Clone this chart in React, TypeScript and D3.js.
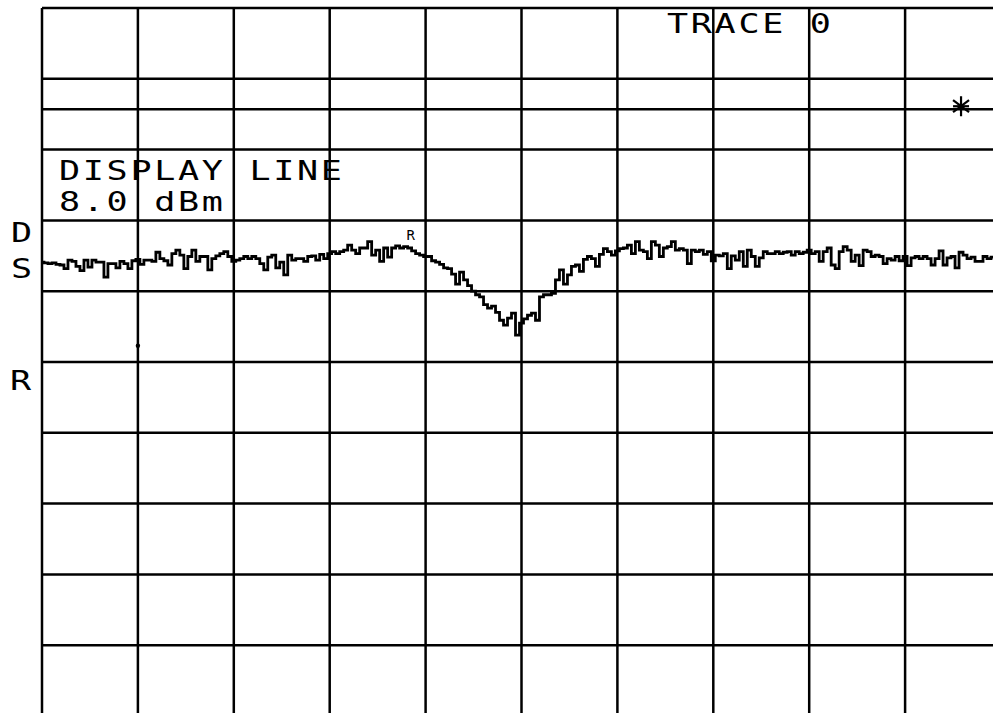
import React from 'react';
import * as d3 from 'd3';

// ---------- data ----------
const traceDbm: number[] = [
  -13.6, -13.7, -13.8, -13.7, -13.9, -14.0, -14.5, -13.3, -13.5, -14.2,
  -14.8, -13.3, -14.3, -13.3, -13.6, -13.6, -15.7, -13.8, -13.8, -14.4,
  -13.5, -13.8, -14.5, -13.4, -13.2, -13.9, -13.3, -13.3, -13.5, -12.2,
  -13.1, -13.4, -14.0, -12.4, -11.9, -12.6, -14.5, -12.8, -11.9, -13.5,
  -12.8, -12.8, -14.7, -13.1, -12.7, -12.4, -12.1, -12.8, -13.5, -13.3,
  -13.1, -12.8, -13.1, -12.8, -13.1, -13.8, -14.7, -12.9, -12.6, -14.4,
  -13.6, -15.4, -12.6, -13.3, -13.1, -13.1, -13.5, -12.8, -12.7, -13.3,
  -12.5, -13.1, -12.4, -12.1, -12.4, -12.1, -11.9, -11.2, -11.9, -12.4,
  -11.6, -11.6, -10.7, -12.6, -11.9, -13.5, -11.6, -12.9, -11.6, -11.3,
  -11.6, -11.4, -11.6, -12.0, -12.4, -12.6, -12.8, -12.8, -13.4, -13.6,
  -13.9, -14.4, -14.5, -15.3, -16.7, -15.0, -16.1, -16.9, -17.7, -18.2,
  -18.5, -19.6, -20.1, -19.8, -20.7, -21.8, -22.5, -21.5, -20.8, -23.9,
  -22.2, -21.6, -21.1, -20.8, -21.8, -18.5, -18.2, -18.2, -18.0, -16.1,
  -14.7, -16.7, -15.4, -14.2, -14.0, -14.9, -13.2, -12.8, -13.1, -14.2,
  -12.5, -11.7, -12.1, -12.6, -12.0, -11.7, -11.6, -11.2, -12.4, -10.7,
  -11.9, -12.1, -13.1, -10.7, -11.2, -12.8, -11.6, -11.4, -10.7, -11.9,
  -11.7, -11.9, -13.8, -11.9, -12.1, -11.9, -12.5, -12.1, -13.4, -12.6,
  -12.7, -12.4, -14.5, -12.7, -13.3, -12.1, -14.2, -11.9, -12.8, -14.2,
  -13.0, -12.1, -12.4, -12.4, -12.1, -12.4, -12.2, -12.1, -12.6, -12.1,
  -12.4, -12.2, -11.9, -12.4, -12.1, -13.5, -12.1, -11.6, -14.0, -14.5,
  -12.1, -11.4, -11.9, -13.5, -12.6, -14.1, -11.9, -12.1, -12.8, -12.6,
  -12.8, -13.8, -13.1, -13.3, -12.8, -13.4, -12.8, -14.1, -13.0, -12.8,
  -13.1, -12.8, -13.1, -14.0, -13.1, -12.0, -14.0, -13.0, -12.8, -14.4,
  -12.2, -12.6, -13.1, -12.9, -13.5, -13.5, -12.8, -13.1, -12.9, -13.1,
  -12.9,
];

const refLevelDbm = 22.3;
const dbPerDiv = 10;
const numDivX = 10;
const numDivY = 10;
const displayLineDbm = 8.0;

const headerText = 'TRACE 0';
const annotationLines = ['DISPLAY LINE', '8.0 dBm'];
const sideFlags = ['D', 'S', 'R'];
const peakMarkerIndex = 92;
const peakMarkerLabel = 'R';
const asteriskIndex = 230;
const dotPoint = { index: 24, dbm: -25.4 };

// ---------- layout ----------
const W = 993;
const H = 713;
const X0 = 42;
const Y0 = 8;
const PW = 959;
const PH = 708;
const FONT = '"DejaVu Sans Mono", "Liberation Mono", monospace';
const ADV = 23.8;
const SX = 1.3;
const FS = 27;

function MonoText({ x, y, text, fs = FS, adv = ADV, sx = SX }: { x: number; y: number; text: string; fs?: number; adv?: number; sx?: number }) {
  const xs = d3.range(text.length).map((k) => ((k * adv) / sx).toFixed(2)).join(' ');
  return (
    <g transform={`translate(${x},${y}) scale(${sx},1)`}>
      <text x={xs} y={0} fontFamily={FONT} fontSize={fs} fill="#000" style={{ whiteSpace: 'pre' }}>
        {text}
      </text>
    </g>
  );
}

export default function App() {
  const xScale = d3.scaleLinear().domain([0, traceDbm.length - 1]).range([X0, X0 + PW]);
  const yScale = d3
    .scaleLinear()
    .domain([refLevelDbm - dbPerDiv * numDivY, refLevelDbm])
    .range([Y0 + PH, Y0]);

  const vLines = d3.range(numDivX + 1).map((k) => xScale(((traceDbm.length - 1) * k) / numDivX));
  const hLines = d3.range(numDivY + 1).map((k) => yScale(refLevelDbm - k * dbPerDiv));

  const line = d3
    .line<number>()
    .x((_, i) => xScale(i))
    .y((d) => yScale(d))
    .curve(d3.curveStep);

  const dlY = yScale(displayLineDbm);
  const ax = xScale(asteriskIndex);
  const ay = dlY - 3;

  const mx = xScale(peakMarkerIndex);
  const my = yScale(traceDbm[peakMarkerIndex]);

  return (
    <svg
      width={W}
      height={H}
      style={{ position: 'absolute', left: 0, top: 0, background: '#fff' }}
    >
      <rect x={0} y={0} width={W} height={H} fill="#fff" />
      {/* grid */}
      <g stroke="#000" strokeWidth={2.5} fill="none">
        {vLines.map((x, i) => (
          <line key={'v' + i} x1={x} x2={x} y1={Y0} y2={Y0 + PH} />
        ))}
        {hLines.map((y, i) => (
          <line key={'h' + i} x1={X0} x2={X0 + PW} y1={y} y2={y} />
        ))}
        <line x1={X0} x2={X0 + PW} y1={dlY} y2={dlY} />
      </g>

      {/* trace */}
      <path d={line(traceDbm) || ''} fill="none" stroke="#000" strokeWidth={2.8} strokeLinejoin="miter" />

      {/* peak marker */}
      <text x={mx - 3} y={my - 8} fontFamily={FONT} fontSize={14} fill="#000">
        {peakMarkerLabel}
      </text>

      {/* dot */}
      <circle cx={xScale(dotPoint.index)} cy={yScale(dotPoint.dbm)} r={2.2} fill="#000" />

      {/* asterisk */}
      <g stroke="#000" strokeWidth={2.2}>
        <line x1={ax} x2={ax} y1={ay - 10} y2={ay + 10} />
        <line x1={ax - 8} x2={ax + 8} y1={ay - 6} y2={ay + 6} />
        <line x1={ax - 8} x2={ax + 8} y1={ay + 6} y2={ay - 6} />
        <line x1={ax - 8} x2={ax + 8} y1={ay} y2={ay} />
      </g>

      {/* texts */}
      <MonoText x={667} y={33} text={headerText} />
      <MonoText x={59} y={180} text={annotationLines[0]} />
      <MonoText x={59} y={211} text={annotationLines[1]} />
      <MonoText x={11} y={242} text={sideFlags[0]} />
      <MonoText x={11} y={278} text={sideFlags[1]} />
      <MonoText x={10} y={390} text={sideFlags[2]} />
    </svg>
  );
}
